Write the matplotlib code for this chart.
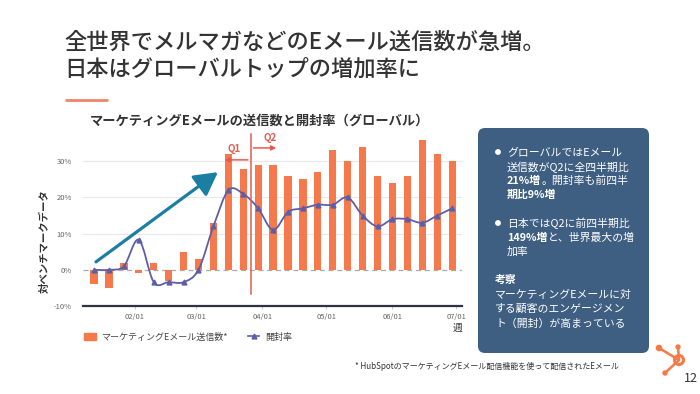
import matplotlib
matplotlib.use("Agg")
import matplotlib.pyplot as plt
import matplotlib.dates as mdates
import numpy as np
import pandas as pd
from matplotlib.patches import FancyBboxPatch, Circle, PathPatch
from matplotlib.path import Path
from matplotlib.lines import Line2D
from matplotlib.patches import Patch

plt.rcParams["font.family"] = ["Noto Sans CJK JP", "DejaVu Sans"]

# weekly data, values in % vs benchmark
weeks = pd.date_range("2020-01-13", periods=25, freq="7D")
sends = [-4, -5, 2, -1, 2, -3, 5, 3, 13, 32, 28, 29, 29, 26, 25, 27, 33, 30, 34, 26, 24, 26, 36, 32, 30]
open_rate = [0, 0, 1, 8.3, -3.4, -3.4, -3.4, 0, 12, 22, 21, 17, 11, 16, 17, 18, 18, 20, 15, 12, 14, 14, 13, 15, 17]
tick_dates = pd.to_datetime(["2020-02-01", "2020-03-01", "2020-04-01", "2020-05-01", "2020-06-01", "2020-07-01"])
tick_labels = ["02/01", "03/01", "04/01", "05/01", "06/01", "07/01"]
yticks = [-10, 0, 10, 20, 30]

BAR = "#f6794c"
LINE = "#5c5ea8"
RED = "#e65a4f"
TEAL = "#1a7fa3"
BOX = "#3e5f82"
DARK = "#333333"

W, H = 700, 394
fig = plt.figure(figsize=(7, 3.94), dpi=100)

# background axis in pixel coordinates for slide decorations
bg = fig.add_axes([0, 0, 1, 1])
bg.set_xlim(0, W)
bg.set_ylim(H, 0)
bg.axis("off")


def px_rect(x0, y0, x1, y1):
    return [x0 / W, 1 - y1 / H, (x1 - x0) / W, (y1 - y0) / H]


ax = fig.add_axes(px_rect(83, 136, 462, 306))
ax.set_zorder(2)
ax.patch.set_alpha(0)

x = mdates.date2num(weeks)
ax.bar(x, sends, width=3.4, color=BAR, zorder=3)

# smooth open-rate curve (catmull-rom through the points)
pts = np.column_stack([x, open_rate])
verts = [pts[0]]
codes = [Path.MOVETO]
for i in range(len(pts) - 1):
    p0 = pts[max(i - 1, 0)]
    p1 = pts[i]
    p2 = pts[i + 1]
    p3 = pts[min(i + 2, len(pts) - 1)]
    c1 = p1 + (p2 - p0) / 6
    c2 = p2 - (p3 - p1) / 6
    verts += [c1, c2, p2]
    codes += [Path.CURVE4] * 3
ax.add_patch(PathPatch(Path(verts, codes), fill=False, edgecolor=LINE, lw=1.3, zorder=4))
ax.plot(x, open_rate, ls="none", marker="^", ms=3.5, color=LINE, zorder=5)

ax.set_xlim(x[0] - 0.74 * 7, x[0] + 24.66 * 7)
ax.set_ylim(-10, 37)
ax.set_yticks(yticks)
ax.set_yticklabels([f"{v}%" for v in yticks], fontsize=5.5, color="#666666")
ax.set_xticks(mdates.date2num(tick_dates))
ax.set_xticklabels(tick_labels, fontsize=5.5, color="#666666")
ax.tick_params(axis="y", length=0, pad=8)
ax.tick_params(axis="x", length=2, color="#cccccc", pad=3)
for v in [10, 20, 30]:
    ax.axhline(v, color="#e8e8e8", lw=0.8, zorder=0)
ax.axhline(0, color="#aaaaaa", lw=0.9, ls=(0, (4, 3)), zorder=1)
for s in ["top", "right", "left"]:
    ax.spines[s].set_visible(False)
ax.spines["bottom"].set_color("#2e3340")
ax.spines["bottom"].set_linewidth(1.6)
ax.set_ylabel("対ベンチマークデータ", fontsize=7.5, fontweight="bold", color=DARK, labelpad=2)
ax.yaxis.set_label_coords(-0.087, 0.38)

# Q1 / Q2 divider
q_split = x[0] + 10.5 * 7
ax.plot([q_split, q_split], [-6.8, 37.5], color=RED, lw=1.1, clip_on=False, zorder=6)
ax.annotate("", xy=(x[0] + 8.55 * 7, 30.4), xytext=(q_split, 30.4),
            arrowprops=dict(arrowstyle="-|>", color=RED, lw=1.1, mutation_scale=7), zorder=6)
ax.annotate("", xy=(x[0] + 12.4 * 7, 33.7), xytext=(q_split, 33.7),
            arrowprops=dict(arrowstyle="-|>", color=RED, lw=1.1, mutation_scale=7), zorder=6)
ax.text(x[0] + 9.4 * 7, 33.5, "Q1", color=RED, fontsize=7, fontweight="bold", ha="center", va="center")
ax.text(x[0] + 11.8 * 7, 36.5, "Q2", color=RED, fontsize=7, fontweight="bold", ha="center", va="center")

# big trend arrow
ax.annotate("", xy=(x[0] + 8.3 * 7, 27), xytext=(x[0] + 0.13 * 7, 2.2),
            arrowprops=dict(arrowstyle="-|>,head_length=1.0,head_width=0.55", color=TEAL, lw=2.3,
                            mutation_scale=14, shrinkA=0, shrinkB=0), zorder=7)

ax.text(1.0, -0.1, "週", transform=ax.transAxes, fontsize=7, color=DARK, ha="right", va="top")

# legend
handles = [Patch(color=BAR), Line2D([], [], color=LINE, marker="^", ms=3.5, lw=1.2)]
fig.legend(handles, ["マーケティングEメール送信数*", "開封率"], loc="center left",
           bbox_to_anchor=(76 / W, 1 - 337 / H), ncol=2, frameon=False, fontsize=6.5,
           handlelength=1.3, handleheight=0.9, columnspacing=2.2, handletextpad=0.6,
           labelcolor="#444444")

# titles
bg.text(64, 42, "全世界でメルマガなどのEメール送信数が急増。", fontsize=16, fontweight="medium",
        color=DARK, va="center", ha="left")
bg.text(64, 69, "日本はグローバルトップの増加率に", fontsize=16, fontweight="medium",
        color=DARK, va="center", ha="left")
bg.plot([65, 108], [100, 100], color="#f08468", lw=2, solid_capstyle="butt")
bg.text(90, 121, "マーケティングEメールの送信数と開封率（グローバル）", fontsize=9.5, fontweight="bold",
        color=DARK, va="center", ha="left")

# info box
bg.add_patch(FancyBboxPatch((478, 128), 171, 225, boxstyle="round,pad=0,rounding_size=7",
                            facecolor=BOX, edgecolor="none"))
renderer = fig.canvas.get_renderer()


def rich_line(x0, y0, parts, size=7.8):
    for txt, bold in parts:
        t = bg.text(x0, y0, txt, fontsize=size, color="white", va="center", ha="left",
                    fontweight="bold" if bold else "normal")
        x0 += t.get_window_extent(renderer).width


bx = 507
rows = [
    (152, [("グローバルではEメール", False)]),
    (167, [("送信数がQ2に全四半期比", False)]),
    (181, [("21%増", True), ("。開封率も前四半", False)]),
    (195, [("期比9%増", True)]),
    (223, [("日本ではQ2に前四半期比", False)]),
    (238, [("149%増", True), ("と、世界最大の増", False)]),
    (252, [("加率", False)]),
]
for yy, parts in rows:
    rich_line(bx, yy, parts)
for yy in [152, 223]:
    bg.add_patch(Circle((498, yy), 2.2, color="white"))
rich_line(495, 280, [("考察", True)])
rich_line(495, 295, [("マーケティングEメールに対", False)])
rich_line(495, 309, [("する顧客のエンゲージメン", False)])
rich_line(495, 324, [("ト（開封）が高まっている", False)])

# footnote, logo and page number
bg.text(355, 366, "* HubSpotのマーケティングEメール配信機能を使って配信されたEメール", fontsize=5.8,
        color="#333333", va="center", ha="left")
logo = "#f57a45"
cx, cy = 679, 360
for ex, ey, r in [(678, 347, 2.0), (659, 348, 2.6), (665, 373, 2.0)]:
    bg.plot([cx, ex], [cy, ey], color=logo, lw=1.8, solid_capstyle="round")
    bg.add_patch(Circle((ex, ey), r, color=logo))
bg.add_patch(Circle((cx, cy), 4.5, facecolor="white", edgecolor=logo, lw=2.2))
bg.text(684, 378, "12", fontsize=9, color="#333333", va="center", ha="left")

fig.savefig("out.png", dpi=100, facecolor="white")
